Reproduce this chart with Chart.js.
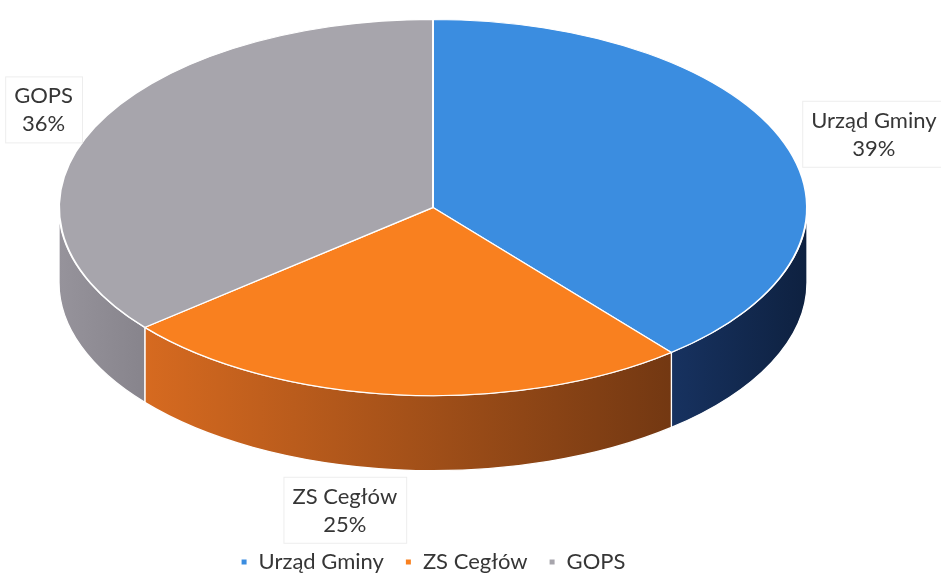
<!DOCTYPE html>
<html><head><meta charset="utf-8">
<script src="https://cdn.jsdelivr.net/npm/chart.js@4.4.1/dist/chart.umd.min.js"></script>
<style>html,body{margin:0;padding:0;background:#fff;overflow:hidden}canvas{display:block}</style>
</head><body>
<canvas id="c" width="941" height="573"></canvas>
<script>
// ---- data ----
const categories = ['Urząd Gminy', 'ZS Cegłów', 'GOPS'];
const shares = [39, 25, 36];
const topColors = ['#3b8de0', '#f9801f', '#a7a5ac'];
const sideColors = [['#173260', '#0e2140'], ['#d66a20', '#733812'], ['#96939b', '#87848c']];

// ---- projection / layout ----
const TILT = 0.503;      // vertical squash of the pie top
const DEPTH = 75;        // thickness of the 3D side
const RADIUS = 374;
const SHIFT_Y = -57.5;   // lift of the projected pie inside the chart area
const LABEL_OFFSETS = [[89, -9], [-53, 41], [-51, -17]];
const TEXT_COLOR = '#363636';
const FONT = 'Lato, "Open Sans", sans-serif';

function geom(chart) {
  const arcs = chart.getDatasetMeta(0).data;
  const r = arcs[0].outerRadius;
  return { arcs, ox: arcs[0].x, oy: arcs[0].y, cx: arcs[0].x, cy: arcs[0].y + SHIFT_Y, r, ry: r * TILT };
}

const pie3d = {
  id: 'pie3d',
  beforeDatasetsDraw(chart) {
    const ctx = chart.ctx;
    const { arcs, ox, oy, cx, cy, r, ry } = geom(chart);
    arcs.forEach((arc, i) => {
      for (let k = -1; k <= 1; k++) {
        const s = Math.max(arc.startAngle + 2 * Math.PI * k, 0);
        const e = Math.min(arc.endAngle + 2 * Math.PI * k, Math.PI);
        if (e <= s) continue;
        const x0 = cx + r * Math.cos(s), x1 = cx + r * Math.cos(e);
        const g = ctx.createLinearGradient(Math.min(x0, x1), 0, Math.max(x0, x1), 0);
        g.addColorStop(0, sideColors[i][0]);
        g.addColorStop(1, sideColors[i][1]);
        ctx.beginPath();
        ctx.ellipse(cx, cy, r, ry, 0, s, e, false);
        ctx.ellipse(cx, cy + DEPTH, r, ry, 0, e, s, true);
        ctx.closePath();
        ctx.fillStyle = g;
        ctx.fill();
        ctx.strokeStyle = '#ffffff';
        ctx.lineWidth = 1.3;
        ctx.stroke();
      }
    });
    ctx.save();
    ctx.translate(cx, cy);
    ctx.scale(1, TILT);
    ctx.translate(-ox, -oy);
  },
  afterDatasetsDraw(chart) {
    const ctx = chart.ctx;
    ctx.restore();
    const { arcs, cx, cy, r, ry } = geom(chart);
    ctx.save();
    ctx.font = '22px ' + FONT;
    ctx.textAlign = 'center';
    ctx.textBaseline = 'middle';
    const lh = 28;
    arcs.forEach((arc, i) => {
      const m = (arc.startAngle + arc.endAngle) / 2;
      let ax = cx + r * Math.cos(m), ay = cy + ry * Math.sin(m);
      if (Math.sin(m) > 0) ay += DEPTH;
      const lx = ax + LABEL_OFFSETS[i][0], ly = ay + LABEL_OFFSETS[i][1];
      const lines = [categories[i], shares[i] + '%'];
      const w = Math.max(...lines.map(t => ctx.measureText(t).width));
      const bx = lx - w / 2 - 9, by = ly - lh / 2 - 20, bw = w + 18, bh = lh + 38;
      ctx.fillStyle = '#ffffff';
      ctx.fillRect(bx, by, bw, bh);
      ctx.strokeStyle = '#ededed';
      ctx.lineWidth = 1;
      ctx.strokeRect(bx + 0.5, by + 0.5, bw, bh);
      ctx.fillStyle = TEXT_COLOR;
      ctx.fillText(lines[0], lx, ly - lh / 2);
      ctx.fillText(lines[1], lx, ly + lh / 2);
    });
    ctx.restore();
  }
};

new Chart(document.getElementById('c'), {
  type: 'pie',
  data: {
    labels: categories,
    datasets: [{
      data: shares,
      backgroundColor: topColors,
      borderColor: '#ffffff',
      borderWidth: 2,
      radius: RADIUS,
      clip: false
    }]
  },
  options: {
    responsive: false,
    animation: false,
    events: [],
    layout: { padding: { top: 0, right: 75, bottom: -10, left: 0 } },
    plugins: {
      tooltip: { enabled: false },
      legend: {
        position: 'bottom',
        labels: {
          boxWidth: 7, boxHeight: 7, padding: 21,
          color: TEXT_COLOR,
          font: { size: 22, family: FONT }
        }
      }
    }
  },
  plugins: [pie3d]
});
</script>
</body></html>
